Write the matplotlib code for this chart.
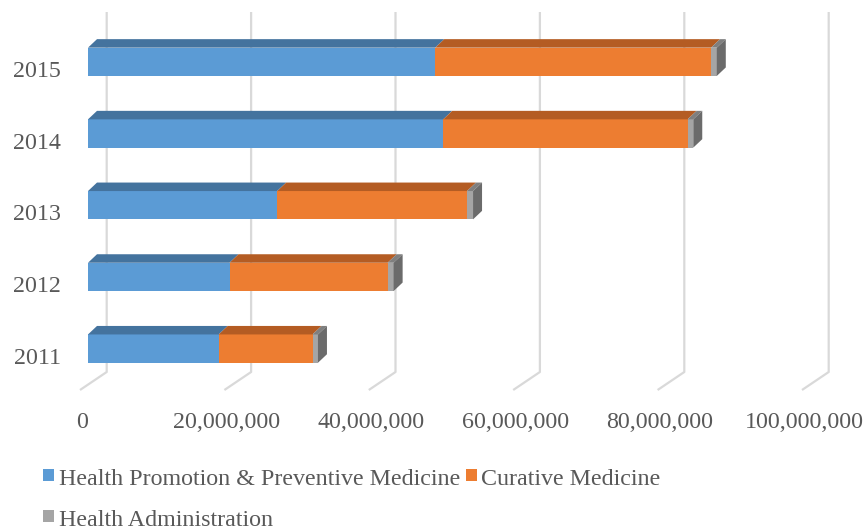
import numpy as np
import matplotlib.pyplot as plt
from matplotlib.patches import Polygon, Rectangle

plt.rcParams['font.family'] = ['Liberation Serif', 'DejaVu Serif']

years = ['2011', '2012', '2013', '2014', '2015']
preventive = [18.1e6, 19.6e6, 26.2e6, 49.2e6, 48.1e6]
curative = [13.0e6, 21.9e6, 26.3e6, 33.85e6, 38.2e6]
admin = [0.75e6, 0.83e6, 0.83e6, 0.78e6, 0.79e6]
series_names = ['Health Promotion & Preventive Medicine',
                'Curative Medicine',
                'Health Administration']
xticks = [0, 20e6, 40e6, 60e6, 80e6, 100e6]
xtick_labels = ['0', '20,000,000', '40,000,000', '60,000,000',
                '80,000,000', '100,000,000']

front_colors = ['#5b9bd5', '#ed7d31', '#a5a5a5']
top_colors = ['#44739e', '#b45c23', '#7f7f7f']
side_color = '#6b6b6b'
grid_color = '#d9d9d9'
text_color = '#595959'
fsize = 17.3

W, H = 866, 531
ux = 20e6 / 144.4      # value units per pixel
uy = 1 / 71.7          # category units per pixel
x0_px, y0_px = 88, 348.6

fig = plt.figure(figsize=(W / 100, H / 100), dpi=100)
ax = fig.add_axes([0, 0, 1, 1])
ax.set_xlim(-x0_px * ux, (W - x0_px) * ux)
ax.set_ylim(-(H - y0_px) * uy, y0_px * uy)
ax.axis('off')

# 3D look: depth offset of bar faces and of the back wall / floor
ddx, ddy = 9 * ux, 8.5 * uy
wall_dx = 18.7 * ux
floor_dx = -8 * ux
wall_top = (y0_px - 12) * uy
floor_back = (y0_px - 372) * uy
floor_front = (y0_px - 390) * uy

for t in xticks:
    ax.plot([t + wall_dx, t + wall_dx, t + floor_dx],
            [wall_top, floor_back, floor_front],
            color=grid_color, lw=1.6, zorder=1, solid_capstyle='butt')

bh = 28.3 * uy
ypos = np.arange(len(years))
stack = [preventive, curative, admin]
left = np.zeros(len(years))
for k, vals in enumerate(stack):
    vals = np.array(vals)
    ax.barh(ypos, vals, left=left, height=bh, color=front_colors[k],
            edgecolor='none', zorder=3)
    for i in ypos:
        l, r = left[i], left[i] + vals[i]
        yt = i + bh / 2
        ax.add_patch(Polygon([(l, yt), (r, yt), (r + ddx, yt + ddy),
                              (l + ddx, yt + ddy)],
                             closed=True, facecolor=top_colors[k],
                             edgecolor='none', zorder=3))
    left = left + vals

# right side face of each stacked bar
for i in ypos:
    r = left[i]
    ax.add_patch(Polygon([(r, i - bh / 2), (r, i + bh / 2),
                          (r + ddx, i + bh / 2 + ddy), (r + ddx, i - bh / 2 + ddy)],
                         closed=True, facecolor=side_color,
                         edgecolor='none', zorder=3))

# category labels
for i, y in enumerate(years):
    ax.text(-27 * ux, i - 15.2 * uy, y, ha='right', va='baseline',
            fontsize=fsize, color=text_color)

# value axis labels
for t, lab in zip(xticks, xtick_labels):
    ax.text(t - 6 * ux, (y0_px - 428) * uy, lab, ha='center', va='baseline',
            fontsize=fsize, color=text_color)


def fig_xy(px, py):
    return px / W, 1 - py / H


legend_items = [(series_names[0], front_colors[0], 42.5, 475),
                (series_names[1], front_colors[1], 465.5, 475),
                (series_names[2], front_colors[2], 42.5, 516)]
for name, col, lx, ly in legend_items:
    bx, by = fig_xy(lx, ly + 6)
    fig.patches.append(Rectangle((bx, by), 11 / W, 12 / H, facecolor=col,
                                 edgecolor='none', transform=fig.transFigure))
    tx, ty = fig_xy(lx + 16, ly + 10)
    fig.text(tx, ty, name, ha='left', va='baseline', fontsize=fsize,
             color=text_color)

fig.savefig('out.png', dpi=100)
